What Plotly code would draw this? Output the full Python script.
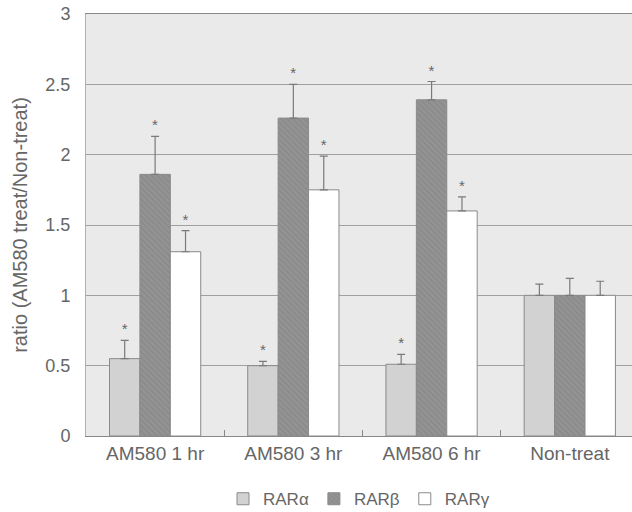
import plotly.graph_objects as go

categories = ["AM580 1 hr", "AM580 3 hr", "AM580 6 hr", "Non-treat"]
series_names = ["RARα", "RARβ", "RARγ"]
rar_alpha = [0.55, 0.50, 0.51, 1.00]
rar_beta = [1.86, 2.26, 2.39, 1.00]
rar_gamma = [1.31, 1.75, 1.60, 1.00]
err_alpha = [0.13, 0.03, 0.07, 0.08]
err_beta = [0.27, 0.24, 0.13, 0.12]
err_gamma = [0.15, 0.24, 0.10, 0.10]
star_alpha = ["*", "*", "*", ""]
star_beta = ["*", "*", "*", ""]
star_gamma = ["*", "*", "*", ""]
y_ticks = [0, 0.5, 1, 1.5, 2, 2.5, 3]
y_tick_labels = ["0", "0.5", "1", "1.5", "2", "2.5", "3"]

values = [rar_alpha, rar_beta, rar_gamma]
errors = [err_alpha, err_beta, err_gamma]
stars = [star_alpha, star_beta, star_gamma]
fills = ["#d2d2d2", "#939393", "#ffffff"]
patterns = ["", "\\", ""]
groups = ["a", "b", "c"]
txt = "#666666"

fig = go.Figure()
for name, v, e, fc, pat, g in zip(series_names, values, errors, fills, patterns, groups):
    fig.add_trace(go.Bar(
        x=categories, y=v, name=name, offsetgroup=g,
        marker=dict(color=fc, line=dict(color="#8a8a8a", width=1),
                    pattern=dict(shape=pat, fgcolor="#767676", size=4, solidity=0.25)),
        error_y=dict(type="data", array=e, symmetric=False, arrayminus=[0] * len(e),
                     color="#7a7a7a", thickness=1.2, width=4),
    ))
for v, e, s, g in zip(values, errors, stars, groups):
    fig.add_trace(go.Bar(
        x=categories, y=[a + b for a, b in zip(v, e)], offsetgroup=g,
        marker=dict(color="rgba(0,0,0,0)", line=dict(width=0)),
        text=s, textposition="outside", cliponaxis=False,
        textfont=dict(size=15, color=txt),
        showlegend=False, hoverinfo="skip",
    ))

fig.update_layout(
    width=632, height=512,
    margin=dict(l=86, r=0, t=14, b=76),
    paper_bgcolor="white", plot_bgcolor="#eaeaea",
    barmode="group", bargap=0.34, bargroupgap=0,
    font=dict(family="Liberation Sans, Arial, sans-serif", size=19, color=txt),
    showlegend=True,
    legend=dict(orientation="h", yref="container",
                x=0.5, xanchor="center", y=0.025, yanchor="middle",
                font=dict(size=17, color=txt), itemwidth=30,
                tracegroupgap=0),
    xaxis=dict(range=[-0.5, 3.45], tickson="boundaries", ticks="inside", ticklen=6,
               tickcolor="#888", showline=True, linecolor="#888", mirror=True,
               showgrid=False, automargin=False,
               tickfont=dict(size=19, color=txt)),
    yaxis=dict(range=[0, 3], tickvals=y_ticks, ticktext=y_tick_labels,
               showgrid=True, gridcolor="#a0a0a0", gridwidth=1, zeroline=False,
               showline=True, linecolor="#b0b0b0", mirror=True, ticks="",
               ticklabelstandoff=11, automargin=False,
               title=dict(text="ratio (AM580 treat/Non-treat)", font=dict(size=20, color=txt),
                          standoff=12),
               tickfont=dict(size=18, color=txt)),
)

fig.write_html("out.html", config={"displayModeBar": False},
               post_script="document.body.style.margin='0';document.body.style.padding='0';")
